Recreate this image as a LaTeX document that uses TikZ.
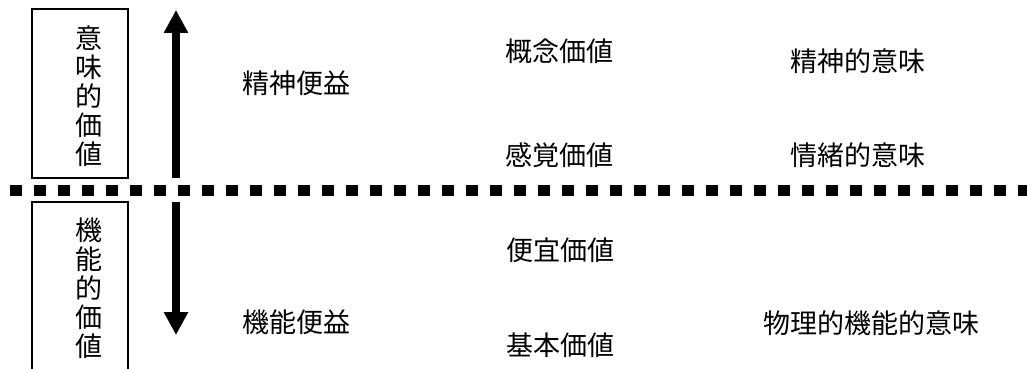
\documentclass[tikz,border=0pt]{standalone}
\usepackage{fontspec}
\newfontfamily\cjk{Noto Sans CJK JP}
\usetikzlibrary{arrows.meta}
\begin{document}
\begin{tikzpicture}[x=1pt,y=-1pt,
  lbl/.style={inner sep=0pt, font=\cjk\fontsize{27}{29}\selectfont},
  vlbl/.style={inner sep=0pt, align=center, font=\cjk\fontsize{27}{29}\selectfont},
  boxline/.style={draw=black, line width=1.3pt},
  bigarrow/.style={line width=7.5pt, -{Triangle[length=23pt,width=23pt]}},
  sep/.style={line width=11pt, dash pattern=on 11.5pt off 12.5pt}]
\useasboundingbox (0,0) rectangle (1027,369);
\clip (0,0) rectangle (1027,369);
% boxes
\node[boxline, minimum width=96pt, minimum height=169pt, inner sep=0pt] (topbox) at (80,93.5) {};
\node[boxline, minimum width=96pt, minimum height=200pt, inner sep=0pt] (botbox) at (80,302) {};
\node[vlbl] (toptext) at (89,96) {意\\味\\的\\価\\値};
\node[vlbl] (bottext) at (89,288) {機\\能\\的\\価\\値};
% separator
\coordinate (sepL) at (10,190.5);
\coordinate (sepR) at (1040,190.5);
\draw[sep] (sepL) -- (sepR);
% arrows
\coordinate (upS) at (176,178);
\coordinate (upE) at (176,10);
\coordinate (dnS) at (176,202);
\coordinate (dnE) at (176,335);
\draw[bigarrow] (upS) -- (upE);
\draw[bigarrow] (dnS) -- (dnE);
% labels
\node[lbl] (seishin) at (296,83) {精神便益};
\node[lbl] (kinou) at (296,322) {機能便益};
\node[lbl] (gainen) at (559,51) {概念価値};
\node[lbl] (kankaku) at (559,155) {感覚価値};
\node[lbl] (bengi) at (560,250) {便宜価値};
\node[lbl] (kihon) at (560,345) {基本価値};
\node[lbl] (seishinimi) at (858,61) {精神的意味};
\node[lbl] (jocho) at (858,155) {情緒的意味};
\node[lbl] (butsuri) at (871,323) {物理的機能的意味};
\end{tikzpicture}
\end{document}
